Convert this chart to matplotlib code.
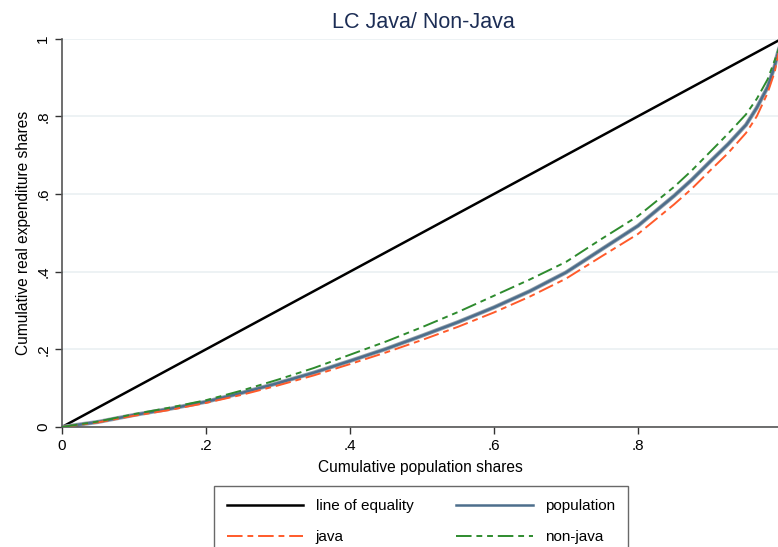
import matplotlib.pyplot as plt
import numpy as np

plt.rcParams['font.family'] = ['Liberation Sans', 'DejaVu Sans']

# cumulative population shares
pshare = [0, .05, .1, .15, .2, .25, .3, .35, .4, .45, .5, .55, .6, .65, .7, .75, .8,
          .85, .875, .9, .925, .95, .965, .98, .99, .993, 1.0]
# cumulative real expenditure shares
population = [0, .013, .031, .047, .065, .088, .113, .140, .170, .201, .235, .270, .308, .350, .398, .458, .518,
              .595, .637, .683, .728, .778, .822, .875, .930, .955, 1.0]
java = [0, .012, .029, .044, .062, .083, .107, .133, .162, .192, .224, .258, .295, .336, .382, .440, .497,
        .573, .614, .660, .705, .757, .800, .860, .915, .945, 1.0]
nonjava = [0, .014, .033, .050, .069, .094, .122, .152, .186, .220, .257, .296, .338, .380, .425, .485, .543,
           .618, .661, .708, .755, .805, .845, .895, .945, .960, 1.0]

fig = plt.figure(figsize=(7.78, 5.47), dpi=100)
ax = fig.add_axes([62/778, 120/547, 716/778, 388.4/547])

ax.plot([0, 1], [0, 1], color='black', lw=1.8, label='line of equality')
ax.plot(pshare, population, color='#9aa5ae', lw=3.0, zorder=2)
ax.plot(pshare, population, color='#4d6e8c', lw=1.8, label='population', zorder=3)
ax.plot(pshare, java, color='#ff5a2a', lw=1.4, ls=(0, (8, 2.5, 3, 2.5)), label='java', zorder=4)
ax.plot(pshare, nonjava, color='#2e8b2e', lw=1.4, ls=(0, (8, 2.5, 3, 2.5, 3, 2.5)), label='non-java', zorder=4)

ax.set_xlim(0, 716/720)
ax.set_ylim(0, 1)
ax.set_xticks([0, .2, .4, .6, .8])
ax.set_xticklabels(['0', '.2', '.4', '.6', '.8'])
ax.set_yticks([0, .2, .4, .6, .8, 1])
ax.set_yticklabels(['0', '.2', '.4', '.6', '.8', '1'], rotation=90, va='center')
ax.tick_params(direction='out', length=5, width=1, colors='#333333', labelsize=11, labelcolor='black')
ax.yaxis.grid(True, color='#eaf0f2', lw=1.2)
ax.set_axisbelow(True)
for s in ['top', 'right']:
    ax.spines[s].set_visible(False)
for s in ['left', 'bottom']:
    ax.spines[s].set_color('#555555')
    ax.spines[s].set_linewidth(1.2)

ax.set_xlabel('Cumulative population shares', fontsize=11.2, labelpad=5)
ax.set_ylabel('Cumulative real expenditure shares', fontsize=11.2, labelpad=4)
fig.text(423/778, 1 - 23/547, 'LC Java/ Non-Java', ha='center', va='center',
         fontsize=15.5, color='#1c2d55')

h, l = ax.get_legend_handles_labels()
handles = [h[0], h[2], h[1], h[3]]
leg = fig.legend(handles, ['line of equality', 'java', 'population', 'non-java'],
                 ncol=2, loc='upper center', bbox_to_anchor=(421/778, 1 - 486/547),
                 borderaxespad=0, fontsize=11, handlelength=5.0, columnspacing=2.8,
                 handletextpad=0.8, labelspacing=1.12, borderpad=0.85,
                 fancybox=False, frameon=True)
leg.get_frame().set_edgecolor('#444444')
leg.get_frame().set_linewidth(1.0)

fig.savefig('out.png', dpi=100)
